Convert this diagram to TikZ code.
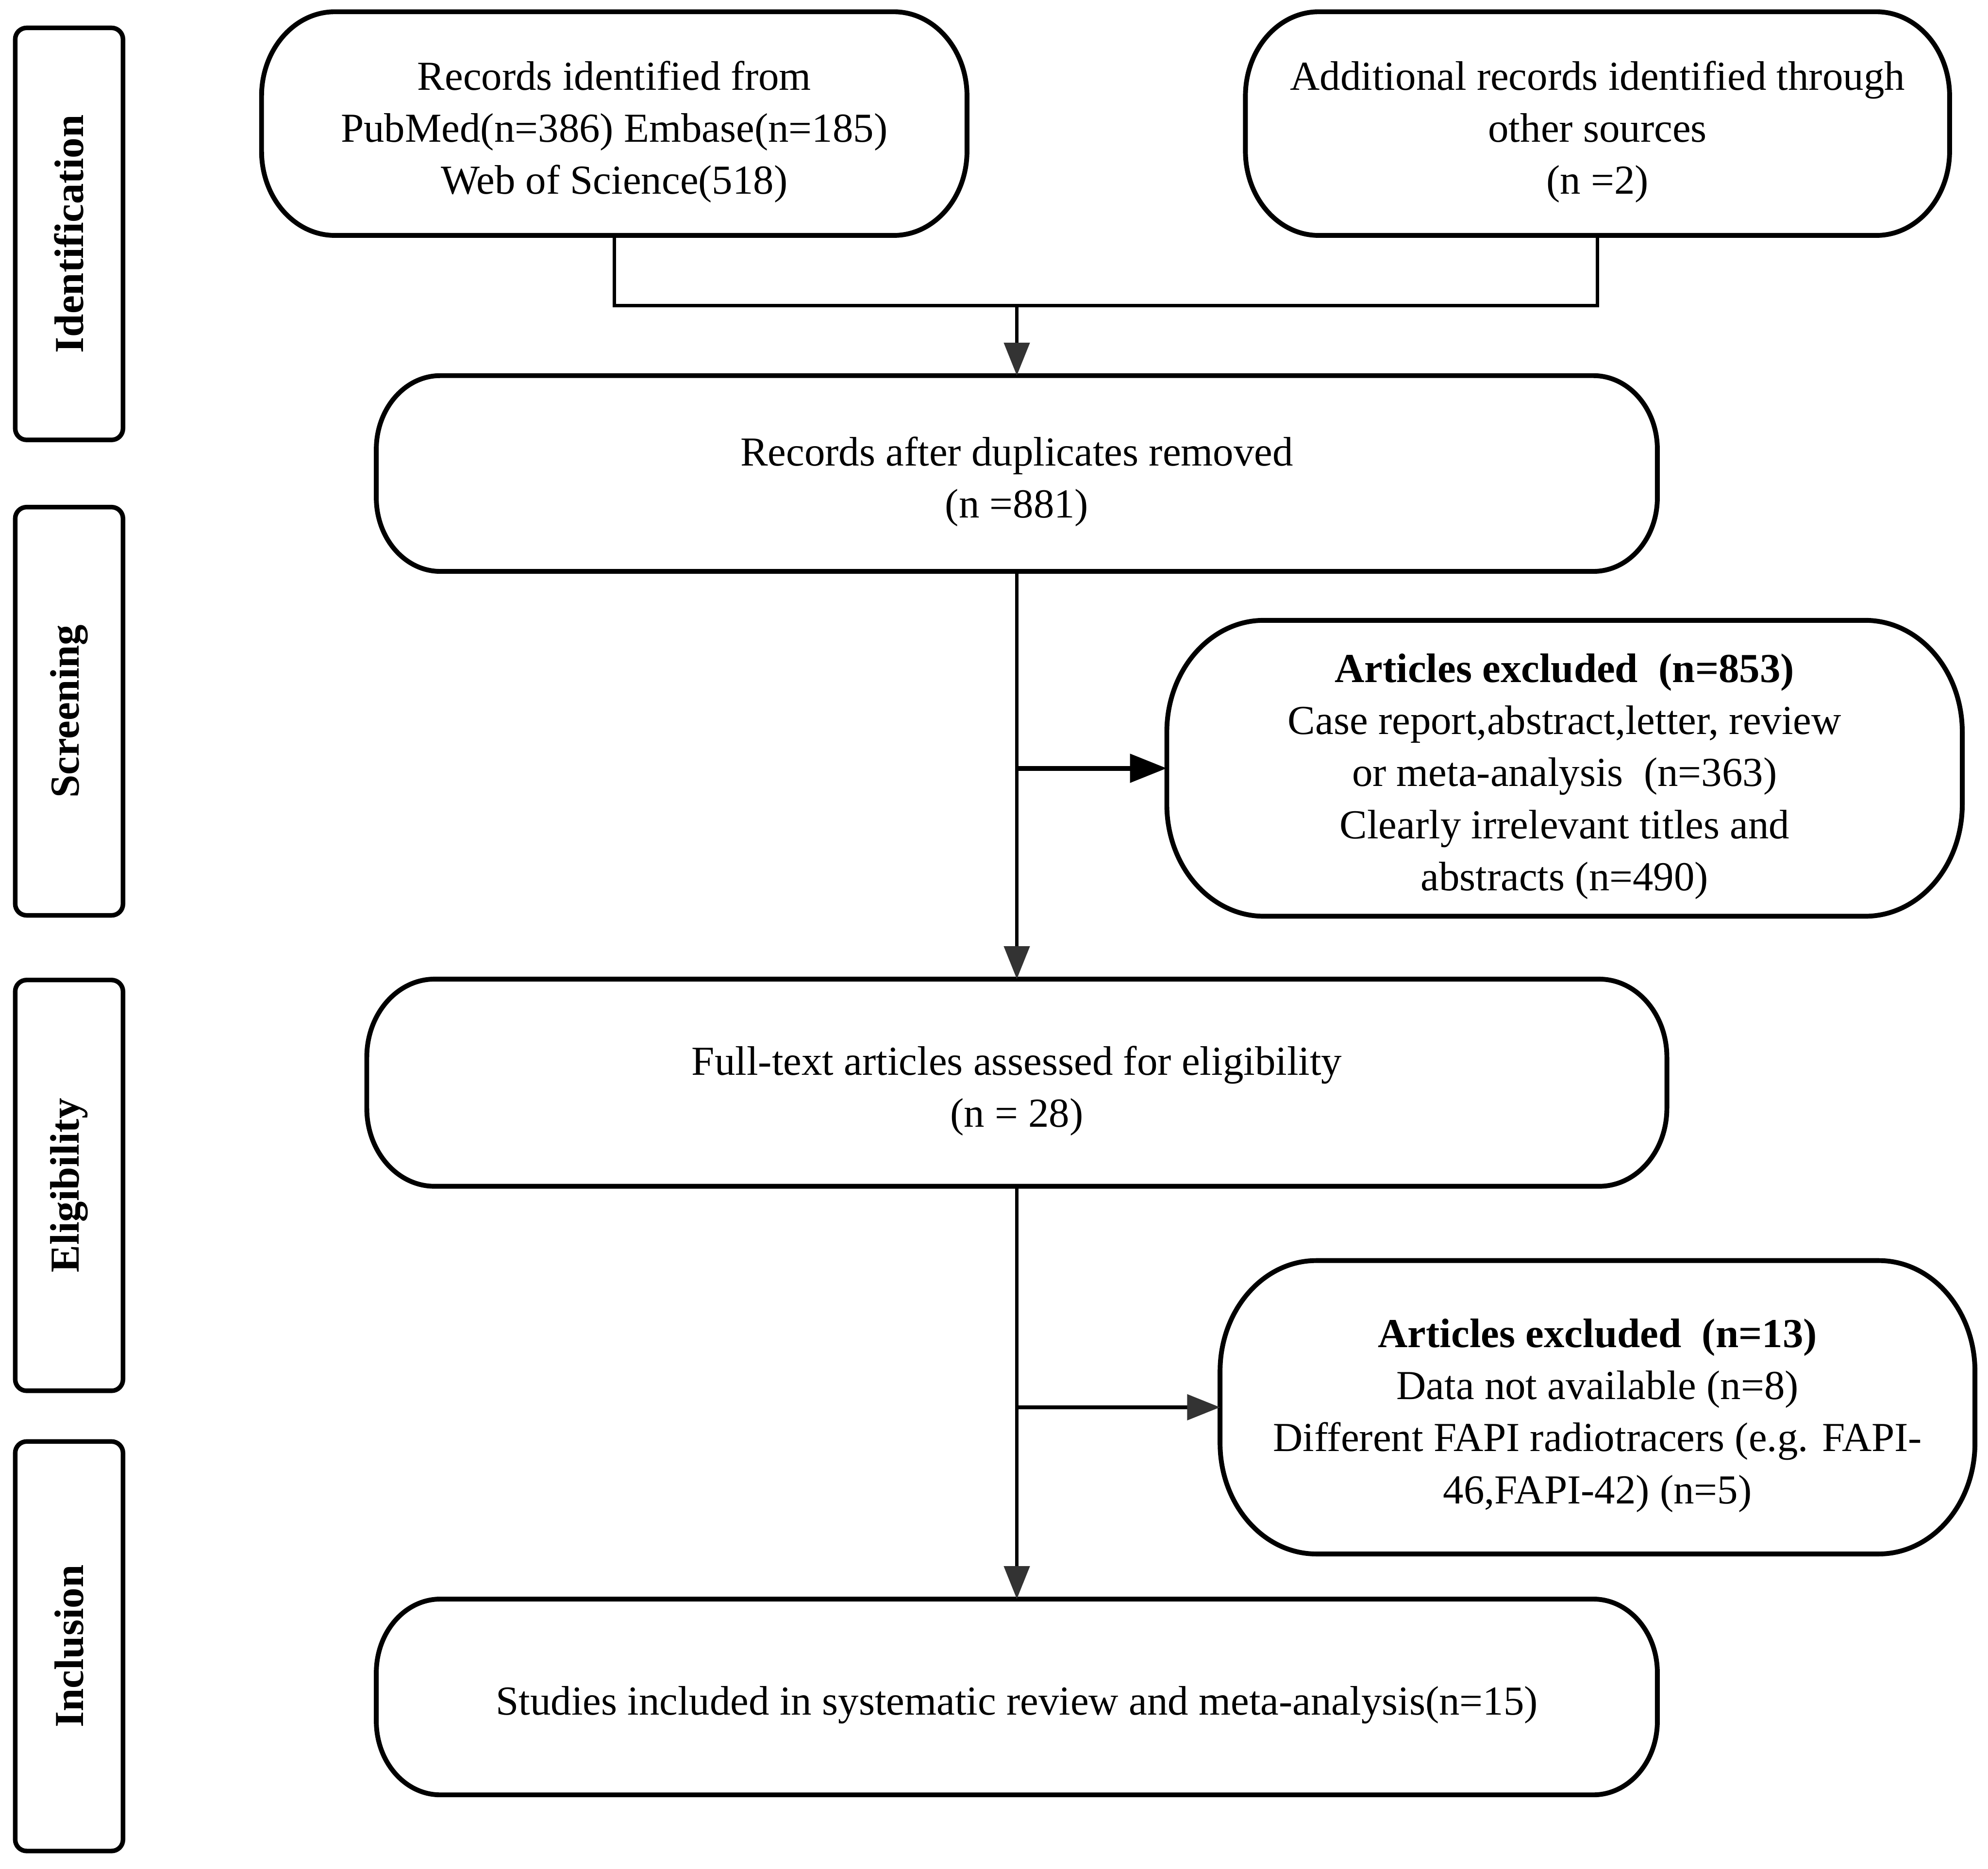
\documentclass[tikz,border=0pt]{standalone}
\usepackage{fontspec}
\setmainfont{Liberation Serif}
\usetikzlibrary{arrows.meta,calc}
\definecolor{tipgray}{HTML}{333333}
\tikzset{
  boxshape/.style={draw=none, inner sep=0pt},
  boxtext/.style={draw=none, inner sep=0pt, align=center, font=\fontsize{9.25}{11.7}\selectfont},
  frame/.style={line width=0.38mm, black},
  side/.style={draw, line width=0.36mm, rounded corners=0.9mm, inner sep=0pt, rotate=90, font=\fontsize{9.25}{11.7}\selectfont\bfseries},
  conn/.style={line width=0.28mm},
  arr/.style={conn, -{Triangle[length=2.6mm,width=2.0mm,color=tipgray]}},
  arrthick/.style={line width=0.38mm, -{Triangle[length=2.9mm,width=2.2mm]}},
}
\newcommand\obox[6]{%
  \node[boxshape, minimum width=#4mm, minimum height=#5mm] (#1) at (#2,#3) {};
  \node[boxtext] (#1t) at ([yshift=-0.65mm]#1.center) {#6};
  \pgfmathsetmacro\orx{0.33*#5}\pgfmathsetmacro\ory{0.38*#5}%
  \draw[frame] ([xshift=\orx mm]#1.north west) -- ([xshift=-\orx mm]#1.north east)
    arc[start angle=90,end angle=0,x radius=\orx mm,y radius=\ory mm]
    -- ([yshift=\ory mm]#1.south east)
    arc[start angle=0,end angle=-90,x radius=\orx mm,y radius=\ory mm]
    -- ([xshift=\orx mm]#1.south west)
    arc[start angle=270,end angle=180,x radius=\orx mm,y radius=\ory mm]
    -- ([yshift=-\ory mm]#1.north west)
    arc[start angle=180,end angle=90,x radius=\orx mm,y radius=\ory mm] -- cycle;%
}
\begin{document}
\begin{tikzpicture}[x=1mm,y=-1mm]
\fill[white] (0,0) rectangle (156.8,147.4);
\useasboundingbox (0,0) rectangle (156.8,147.4);

% side labels
\node[side, minimum width=32.5mm, minimum height=8.5mm] (sid) at (5.45,18.45) {Identification};
\node[side, minimum width=32.2mm, minimum height=8.5mm] (ssc) at (5.45,56.1) {Screening};
\node[side, minimum width=32.4mm, minimum height=8.5mm] (sel) at (5.45,93.5) {Eligibility};
\node[side, minimum width=32.3mm, minimum height=8.5mm] (sin) at (5.45,129.85) {Inclusion};

% boxes
\obox{b1}{48.45}{9.75}{55.5}{17.5}{Records identified from\\PubMed(n=386) Embase(n=185)\\Web of Science(518)}
\obox{b2}{126.0}{9.75}{55.4}{17.5}{Additional records identified through\\other sources\\(n =2)}
\obox{b3}{80.2}{37.35}{100.9}{15.3}{Records after duplicates removed\\(n =881)}
\obox{b4}{123.4}{60.6}{62.6}{23.2}{\textbf{Articles excluded\ \ (n=853)}\\Case report,abstract,letter, review\\or meta-analysis\ \ (n=363)\\Clearly irrelevant titles and\\abstracts (n=490)}
\obox{b5}{80.2}{85.4}{102.4}{16.2}{Full-text articles assessed for eligibility\\(n = 28)}
\obox{b6}{126.0}{111.0}{59.4}{23.0}{\textbf{Articles excluded\ \ (n=13)}\\Data not available (n=8)\\Different FAPI radiotracers (e.g. FAPI-\\46,FAPI-42) (n=5)}
\obox{b7}{80.2}{133.85}{100.9}{15.3}{Studies included in systematic review and meta-analysis(n=15)}

% connectors
\coordinate (j1) at (80.2,24.1);
\draw[conn] (b1.south) |- (j1) -| (b2.south);
\draw[arr] (j1) -- (b3.north);
\draw[arr] (b3.south) -- (b5.north);
\draw[arrthick] (b3.south |- b4.west) -- (b4.west);
\draw[arr] (b5.south) -- (b7.north);
\draw[arr] (b5.south |- b6.west) -- (b6.west);
\end{tikzpicture}
\end{document}
